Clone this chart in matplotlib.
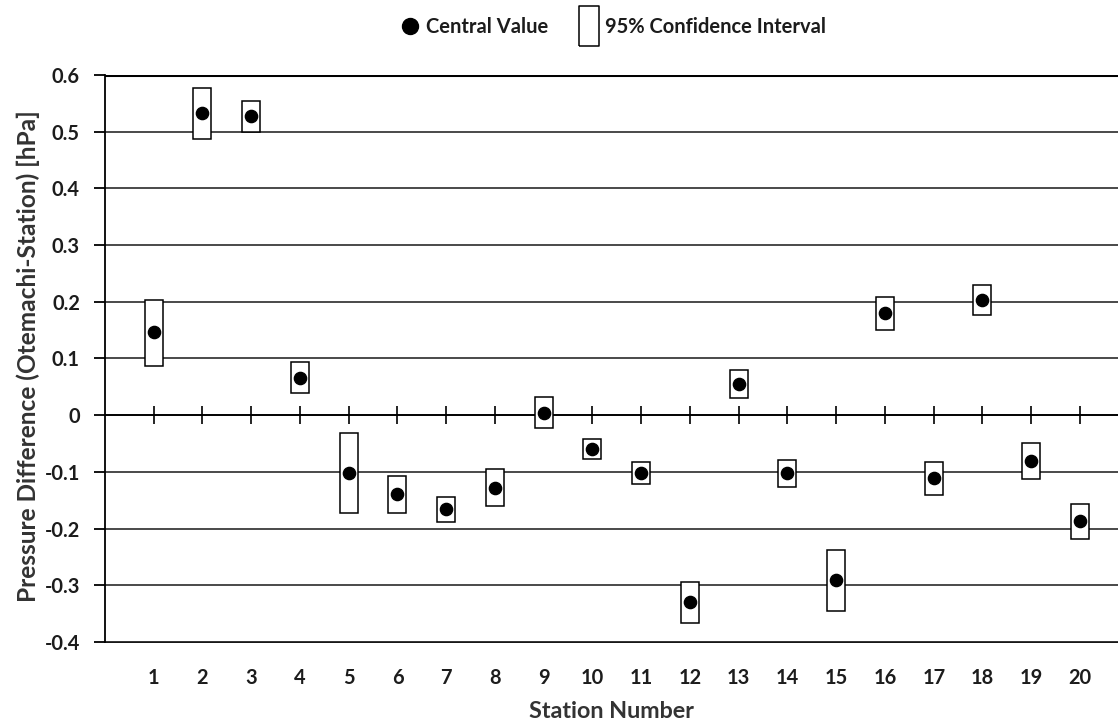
import matplotlib
matplotlib.use("Agg")
import matplotlib.pyplot as plt
from matplotlib.lines import Line2D

# Station numbers and pressure differences (hPa)
stations = list(range(1, 21))
central = [0.146, 0.533, 0.527, 0.066, -0.102, -0.139, -0.165, -0.128, 0.004, -0.059,
           -0.102, -0.330, 0.055, -0.102, -0.290, 0.180, -0.111, 0.203, -0.080, -0.187]
ci_low = [0.086, 0.488, 0.500, 0.040, -0.172, -0.172, -0.189, -0.160, -0.023, -0.077,
          -0.121, -0.367, 0.030, -0.126, -0.346, 0.150, -0.140, 0.176, -0.112, -0.219]
ci_high = [0.204, 0.577, 0.554, 0.094, -0.032, -0.107, -0.144, -0.095, 0.032, -0.042,
           -0.082, -0.295, 0.079, -0.079, -0.237, 0.209, -0.082, 0.230, -0.049, -0.156]
y_ticks = [0.6, 0.5, 0.4, 0.3, 0.2, 0.1, 0.0, -0.1, -0.2, -0.3, -0.4]
y_labels = ["0.6", "0.5", "0.4", "0.3", "0.2", "0.1", "0", "-0.1", "-0.2", "-0.3", "-0.4"]

plt.rcParams["font.family"] = ["Lato", "DejaVu Sans"]
plt.rcParams["font.weight"] = "bold"
text_col = "#1c1c1c"

fig = plt.figure(figsize=(11.18, 7.24), dpi=100)
renderer = fig.canvas.get_renderer()


def fit_size(text, target_px, start=12.0, vertical=False):
    """font size (pt) so that the text spans target_px pixels"""
    t = fig.text(0, 0, text, fontsize=start, fontweight="bold",
                 rotation=90 if vertical else 0)
    bb = t.get_window_extent(renderer=renderer)
    t.remove()
    span = bb.height if vertical else bb.width
    return start * target_px / span


tick_fs = fit_size("0.6", 28)
ylab_fs = fit_size("Pressure Difference (Otemachi-Station) [hPa]", 489, vertical=True)
xlab_fs = fit_size("Station Number", 165)
leg_fs = fit_size("95% Confidence Interval", 220)

ax = fig.add_axes([0.0939, 0.1133, 0.9061, 0.7831])
ax.set_xlim(0, 20.78)
ax.set_ylim(-0.4, 0.6)

# horizontal gridlines
for v in y_ticks:
    ax.axhline(v, color="#3a3a3a", lw=1.3, zorder=1)
ax.axhline(0.6, color="black", lw=2.2, zorder=2)

# confidence boxes
heights = [h - l for h, l in zip(ci_high, ci_low)]
ax.bar(stations, heights, bottom=ci_low, width=0.37, facecolor="white",
       edgecolor="black", linewidth=1.1, zorder=3)
# central values
ax.plot(stations, central, "o", color="black", markersize=8.8, zorder=4)

# spines
ax.spines["right"].set_visible(False)
ax.spines["top"].set_visible(False)
ax.spines["left"].set_linewidth(1.3)
ax.spines["bottom"].set_position(("data", 0))
ax.spines["bottom"].set_linewidth(1.3)

ax.set_yticks(y_ticks)
ax.set_yticklabels(y_labels)
ax.tick_params(axis="y", direction="out", length=8, width=1.3, labelsize=tick_fs,
               pad=10, labelcolor=text_col)
ax.set_xticks(stations)
ax.tick_params(axis="x", direction="inout", length=13, width=1.2, labelbottom=False)

ax.set_ylabel("Pressure Difference (Otemachi-Station) [hPa]", fontsize=ylab_fs,
              fontweight="bold", color="#333333")
ax.yaxis.set_label_coords(-0.064, 0.505)

# station labels below the plot
sec = ax.secondary_xaxis(0)
sec.set_xticks(stations)
sec.set_xticklabels([str(s) for s in stations])
sec.tick_params(length=0, labelsize=tick_fs, pad=19, labelcolor=text_col)
sec.spines["bottom"].set_linewidth(1.3)
sec.set_xlabel("Station Number", fontsize=xlab_fs, fontweight="bold", color="#333333",
               labelpad=9)

# legend
box_marker = [(-1, -2), (1, -2), (1, 2), (-1, 2), (-1, -2)]
handles = [
    Line2D([], [], linestyle="none", marker="o", color="black", markersize=11.5),
    Line2D([], [], linestyle="none", marker=box_marker, markerfacecolor="white",
           markeredgecolor="black", markersize=29.5, markeredgewidth=1.1),
]
fig.legend(handles, ["Central Value", "95% Confidence Interval"], loc="upper center",
           bbox_to_anchor=(0.549, 1.001), ncol=2, frameon=False, fontsize=leg_fs,
           handlelength=0.8, handletextpad=0.4, columnspacing=1.6,
           labelcolor=text_col)

fig.savefig("out.png", dpi=100)
